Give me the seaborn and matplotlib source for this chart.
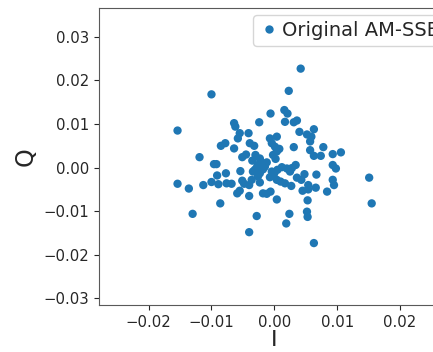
import numpy as np
import pandas as pd
import matplotlib
matplotlib.use("Agg")
import matplotlib.pyplot as plt
import seaborn as sns

I_vals = [0.0042, -0.0100, 0.0023, -0.0154, -0.0006, 0.0016, 0.0021, -0.0024, 0.0017, 0.0031,
          0.0036, -0.0064, -0.0062, -0.0055, -0.0041, -0.0058, 0.0040, 0.0063, 0.0052, 0.0059,
          0.0057, -0.0039, -0.0032, -0.0007, 0.0004, -0.0004, 0.0001, 0.0008, -0.0078, -0.0085,
          -0.0064, 0.0031, 0.0078, 0.0057,
          0.0106, 0.0093, 0.0074, 0.0063, -0.0119, -0.0051, -0.0030, -0.0023, -0.0002, 0.0004,
          -0.0096, -0.0092, -0.0022, -0.0026, -0.0015, -0.0031, -0.0023, -0.0034, -0.0004, 0.0005,
          0.0000, 0.0020, 0.0025, 0.0034, 0.0093, 0.0098, -0.0054, -0.0077, -0.0091, -0.0154,
          -0.0136, -0.0113, -0.0100, -0.0089, -0.0076, -0.0068, -0.0051, -0.0048, -0.0040, -0.0036,
          -0.0023, -0.0007, 0.0004, 0.0010, 0.0017, 0.0027, 0.0036, 0.0043, 0.0048, 0.0067,
          0.0093, 0.0095, 0.0151, 0.0054, 0.0066, 0.0045, 0.0054, 0.0084, -0.0059, -0.0055,
          -0.0018, -0.0012, -0.0006, -0.0040, 0.0004, 0.0053, -0.0086, 0.0155, -0.0130, -0.0028,
          0.0024, 0.0052, 0.0053, 0.0019, -0.0040, 0.0063,
          -0.0028, -0.0020, -0.0018, -0.0035, -0.0012, 0.0002, -0.0026, 0.0012, -0.0045, 0.0028]
Q_vals = [0.0227, 0.0168, 0.0176, 0.0085, 0.0124, 0.0132, 0.0124, 0.0104, 0.0105, 0.0104,
          0.0108, 0.0102, 0.0094, 0.0079, 0.0079, 0.0067, 0.0082, 0.0088, 0.0076, 0.0071,
          0.0060, 0.0056, 0.0050, 0.0067, 0.0071, 0.0056, 0.0048, 0.0043, 0.0056, 0.0050,
          0.0044, 0.0047, 0.0047, 0.0040,
          0.0035, 0.0031, 0.0027, 0.0027, 0.0024, 0.0024, 0.0029, 0.0021, 0.0029, 0.0037,
          0.0008, 0.0008, 0.0014, 0.0006, 0.0002, -0.0005, -0.0013, -0.0009, -0.0009, -0.0005,
          -0.0013, -0.0002, -0.0009, 0.0006, 0.0006, -0.0002, -0.0008, -0.0013, -0.0018, -0.0037,
          -0.0048, -0.0040, -0.0033, -0.0038, -0.0036, -0.0037, -0.0030, -0.0037, -0.0040, -0.0028,
          -0.0034, -0.0022, -0.0028, -0.0032, -0.0036, -0.0042, -0.0023, -0.0028, -0.0015, -0.0016,
          -0.0028, -0.0040, -0.0023, -0.0040, -0.0046, -0.0053, -0.0050, -0.0055, -0.0059, -0.0053,
          -0.0059, -0.0060, -0.0055, -0.0065, -0.0073, -0.0075, -0.0082, -0.0082, -0.0106, -0.0111,
          -0.0106, -0.0101, -0.0113, -0.0128, -0.0148, -0.0173,
          0.0000, 0.0010, -0.0004, 0.0016, 0.0012, 0.0020, -0.0020, 0.0001, 0.0030, -0.0001]

df = pd.DataFrame({"I": I_vals, "Q": Q_vals, "label": "Original AM-SSB"})

sns.set_style("ticks")
plt.rcParams['font.family'] = ['DejaVu Sans']

fig = plt.figure(figsize=(4.33, 3.52), dpi=100)
ax = fig.add_axes([99/433, 47/352, (449.6-99)/433, 297/352])
sns.scatterplot(data=df, x="I", y="Q", hue="label", palette=["#1f77b4"],
                s=36, linewidth=0, ax=ax)
ax.set_xlim(-0.0279, 0.0279)
ax.set_ylim(-0.0315, 0.0366)
ax.set_xticks([-0.02, -0.01, 0.0, 0.01, 0.02])
ax.set_yticks([-0.03, -0.02, -0.01, 0.0, 0.01, 0.02, 0.03])
ax.tick_params(labelsize=10.7, length=3.5)
ax.set_xlabel("I", fontsize=16, labelpad=0)
ax.set_ylabel("Q", fontsize=17)
for s in ax.spines.values():
    s.set_color("0.35")
leg = ax.legend(loc="upper right", bbox_to_anchor=(0.99, 0.976), fontsize=14,
                markerscale=1.0, handletextpad=0.2, borderpad=0.3, handlelength=1.0,
                borderaxespad=0.0)
fig.savefig("out.png", dpi=100)
